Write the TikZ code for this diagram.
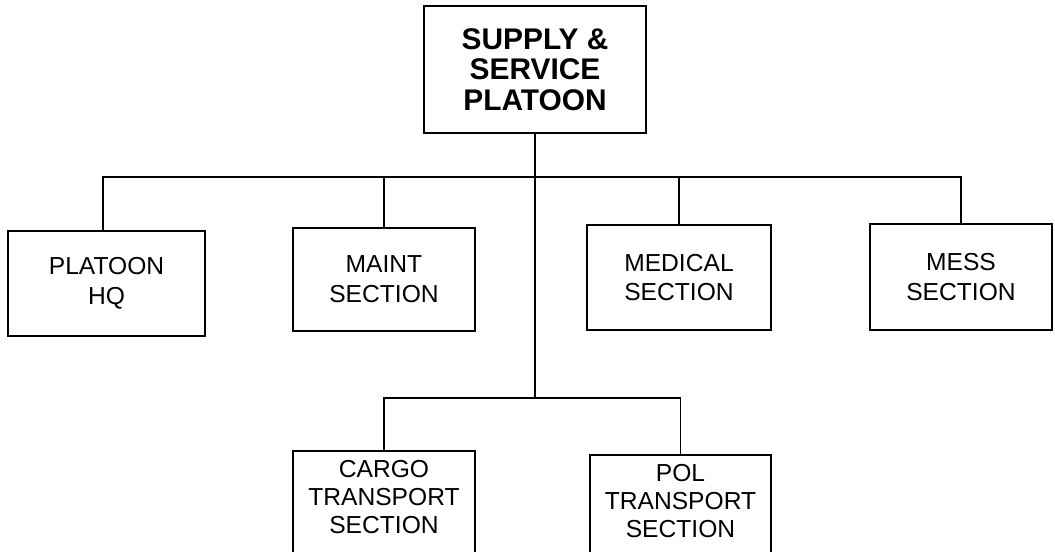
\documentclass[tikz,border=0pt]{standalone}
\usepackage{fontspec}
\setmainfont{Liberation Sans}
\usetikzlibrary{positioning}

\begin{document}
\begin{tikzpicture}[
	unit/.style={draw, line width=1.3pt, align=center, inner sep=0pt,
		font=\fontsize{14}{17}\selectfont},
	head/.style={unit, font=\bfseries\fontsize{17}{17.5}\selectfont},
	lower/.style={unit, anchor=north, inner ysep=5pt, text depth=18pt,
		font=\fontsize{14}{16}\selectfont},
	link/.style={line width=1.1pt}
	]
	\useasboundingbox (0,0) rectangle (21.1,-11.02);
	
	% Platoon
	\node[head, minimum width=4.44cm, minimum height=2.54cm] (plt) at (10.7,-1.39)
	{SUPPLY \&\\SERVICE\\PLATOON};
	
	% Sections on the first row
	\node[unit, minimum width=3.94cm, minimum height=2.1cm] (hq) at (2.13,-5.67) {PLATOON\\HQ};
	\node[unit, minimum width=3.64cm, minimum height=2.06cm] (maint) at (7.68,-5.59) {MAINT\\SECTION};
	\node[unit, minimum width=3.68cm, minimum height=2.1cm] (med) at (13.58,-5.55) {MEDICAL\\SECTION};
	\node[unit, minimum width=3.64cm, minimum height=2.12cm] (mess) at (19.22,-5.54) {MESS\\SECTION};
	
	% Transport sections
	\node[lower, minimum width=3.64cm] (cargo) at (7.68,-9.0) {CARGO\\TRANSPORT\\SECTION};
	\node[lower, minimum width=3.62cm] (pol) at (13.61,-9.08) {POL\\TRANSPORT\\SECTION};
	
	% Lines
	\coordinate (bus) at (10.7,-3.54);
	\coordinate (tbus) at (10.7,-7.96);
	\draw[link] (plt.south) -- (tbus);
	\draw[link] ([xshift=-0.07cm]hq.north) |- (bus) -| (mess.north);
	\draw[link] (maint.north) -- (maint.north |- bus);
	\draw[link] (med.north) -- (med.north |- bus);
	\draw[link] (cargo.north) |- (tbus) -| (pol.north);
\end{tikzpicture}
\end{document}
